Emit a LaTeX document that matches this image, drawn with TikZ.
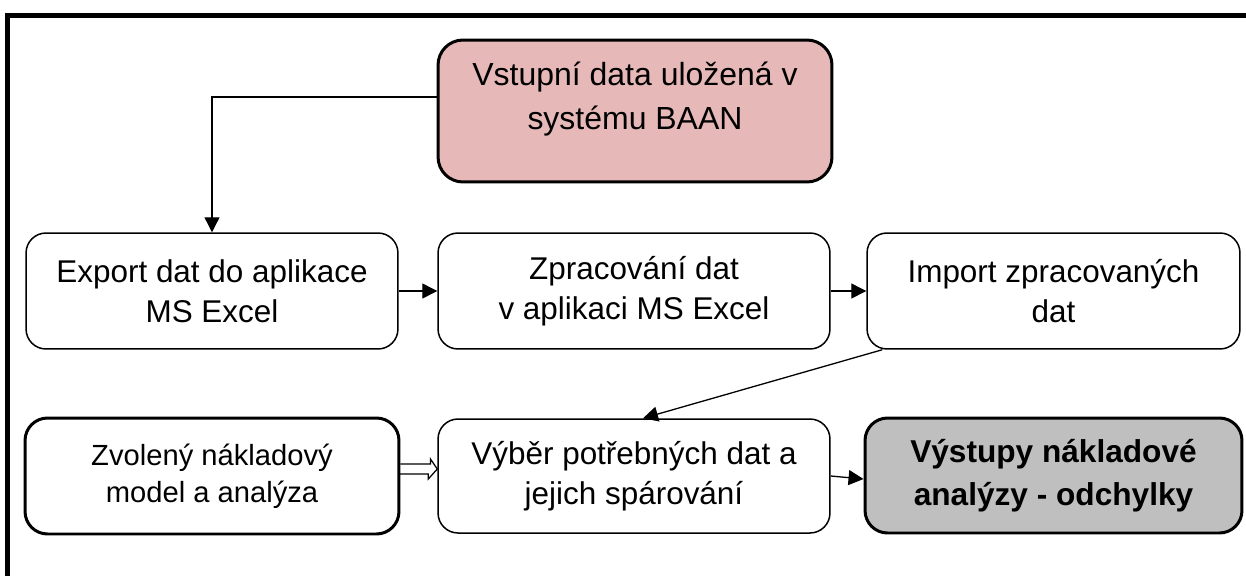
\documentclass[tikz,border=0pt]{standalone}
\usepackage{fontspec}
\setmainfont{Liberation Sans}
\usetikzlibrary{arrows.meta}
\definecolor{baanpink}{RGB}{230,185,184}
\definecolor{outgray}{RGB}{191,191,191}

\begin{document}
\begin{tikzpicture}[x=0.02cm, y=-0.02cm,
  box/.style={shape=rectangle, rounded corners=0.4cm, draw=black, line width=0.03cm, align=center, minimum height=2.32cm, font=\fontsize{17.9pt}{22.8pt}\selectfont},
  thickbox/.style={box, rounded corners=0.45cm, line width=0.06cm},
  arr/.style={line width=0.026cm, -{Triangle[length=0.3cm,width=0.3cm]}},
  hollowarr/.style={line width=0.025cm, line join=miter}]
\useasboundingbox (0,0) rectangle (1246,575);
\clip (0,0) rectangle (1246,575);
\draw[line width=0.1cm] (7.5,600) -- (7.5,15) -- (1270,15);
\node[thickbox, rounded corners=0.5cm, fill=baanpink, minimum width=7.88cm, minimum height=2.84cm, font=\fontsize{18.2pt}{25.6pt}\selectfont] (1) at (635,111) {\begin{tabular}{@{}c@{}}Vstupní data uložená v\\systému BAAN\\[0.5cm]\end{tabular}};
\node[box, minimum width=7.44cm] (2) at (212,291) {Export dat do aplikace\\MS Excel};
\node[box, minimum width=7.84cm] (3) at (634,291) {Zpracování dat\\v aplikaci MS Excel};
\node[box, minimum width=7.46cm] (4) at (1053.5,291) {Import zpracovaných\\dat};
\node[thickbox, minimum width=7.48cm, font=\fontsize{16.6pt}{21.1pt}\selectfont] (5) at (212,476) {Zvolený nákladový\\model a analýza};
\node[box, minimum width=7.84cm, minimum height=2.28cm] (6) at (634,476) {Výběr potřebných dat a\\jejich spárování};
\node[thickbox, fill=outgray, minimum width=7.54cm, minimum height=2.3cm, font=\bfseries\fontsize{18pt}{24.5pt}\selectfont] (7) at (1053.5,475.5) {Výstupy nákladové\\analýzy - odchylky};
\draw[arr] ([yshift=0.28cm]1.west) -| (2.north);
\draw[arr] (2) -- (3);
\draw[arr] (3) -- (4);
\draw[arr] ([xshift=0.32cm]4.south west) -- ([xshift=0.18cm]6.north);
\draw[hollowarr] ([yshift=0.24cm]5.east) -- ++(30,0) -- ++(0,-5) -- ([yshift=0.14cm]6.west) -- ++(-9,10) -- ++(0,-5) -- ++(-30,0);
\draw[arr] (6.east) -- ([yshift=-0.07cm]7.west);
\end{tikzpicture}
\end{document}
